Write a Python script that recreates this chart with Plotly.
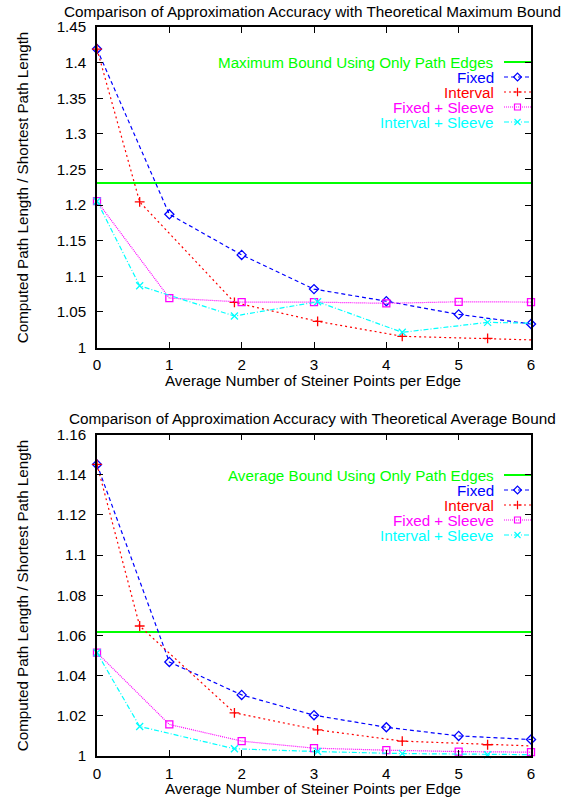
import numpy as np
import plotly.graph_objects as go

# Average number of Steiner points per edge for each placement scheme
steiner_fixed = [0, 1, 2, 3, 4, 5, 6]
steiner_interval = [0, 0.59, 1.9, 3.05, 4.22, 5.4, 6.6]

# Maximum-ratio experiment
max_bound = 1.231
max_fixed = [1.419, 1.187, 1.130, 1.082, 1.065, 1.0465, 1.033]
max_interval = [1.419, 1.2044, 1.0633, 1.0367, 1.0157, 1.0129, 1.009]
max_fixed_sleeve = [1.2054, 1.0694, 1.0638, 1.0638, 1.062, 1.0642, 1.0638]
max_interval_sleeve = [1.2054, 1.0866, 1.0442, 1.0642, 1.0213, 1.0353, 1.033]

# Average-ratio experiment
avg_bound = 1.0617
avg_fixed = [1.1451, 1.0468, 1.0304, 1.0203, 1.0143, 1.0100, 1.0082]
avg_interval = [1.1451, 1.0647, 1.0215, 1.0130, 1.0074, 1.0056, 1.0042]
avg_fixed_sleeve = [1.0514, 1.0157, 1.0074, 1.0039, 1.0029, 1.0022, 1.0019]
avg_interval_sleeve = [1.0514, 1.0147, 1.0036, 1.0022, 1.0012, 1.0006, 1.0005]

series_names = ["Fixed", "Interval", "Fixed + Sleeve", "Interval + Sleeve"]
top_titles = ["Comparison of Approximation Accuracy with Theoretical Maximum Bound",
              "Comparison of Approximation Accuracy with Theoretical Average Bound"]
bound_names = ["Maximum Bound Using Only Path Edges", "Average Bound Using Only Path Edges"]
x_title = "Average Number of Steiner Points per Edge"
y_title = "Computed Path Length / Shortest Path Length"
x_ticks = [0, 1, 2, 3, 4, 5, 6]
y_ticks_max = [1, 1.05, 1.1, 1.15, 1.2, 1.25, 1.3, 1.35, 1.4, 1.45]
y_ticks_avg = [1, 1.02, 1.04, 1.06, 1.08, 1.1, 1.12, 1.14, 1.16]

# Styling
FONT = "Liberation Sans, Arial, Helvetica, sans-serif"
FS = 15.2
FS_TITLE = 15.3
GREEN = "#00ff00"
styles = [
    dict(color="#0000ff", dash="4px,3px", symbol="diamond-open"),
    dict(color="#ff0000", dash="2px,3px", symbol="cross-thin-open"),
    dict(color="#ff00ff", dash="1px,1px", symbol="square-open"),
    dict(color="#00ffff", dash="5px,2px,1px,2px", symbol="x-thin-open"),
]

W, H = 561, 799
ML, MR, MT, MB = 97, 30, 27, 43
PW, PH = W - ML - MR, H - MT - MB


def py(pix):
    """Convert a pixel row (from top) to paper y."""
    return (H - MB - pix) / PH


def px(pix):
    return (pix - ML) / PW


panels = [
    dict(bound=max_bound, ys=[max_fixed, max_interval, max_fixed_sleeve, max_interval_sleeve],
         yr=[1, 1.45], ticks=y_ticks_max, top=27, bottom=347.5,
         legend_rows=[62, 77, 92, 107, 122]),
    dict(bound=avg_bound, ys=[avg_fixed, avg_interval, avg_fixed_sleeve, avg_interval_sleeve],
         yr=[1, 1.16], ticks=y_ticks_avg, top=434.5, bottom=756,
         legend_rows=[475, 490, 505, 520, 535]),
]

fig = go.Figure()
layout = dict(
    width=W, height=H, margin=dict(l=ML, r=MR, t=MT, b=MB, pad=0),
    paper_bgcolor="white", plot_bgcolor="white", showlegend=False,
    font=dict(family=FONT, size=FS, color="black"),
)
annotations = []

for i, p in enumerate(panels):
    n = i + 1
    xa, ya = ("x", "y") if n == 1 else ("x2", "y2")
    la_x, la_y = f"x{n + 2}", f"y{n + 2}"
    dom = [py(p["bottom"]), py(p["top"])]

    # theoretical bound
    fig.add_trace(go.Scatter(x=[x_ticks[0], x_ticks[-1]], y=[p["bound"], p["bound"]],
                             mode="lines", line=dict(color=GREEN, width=2.2),
                             xaxis=xa, yaxis=ya, hoverinfo="skip"))

    for k, (name, st) in enumerate(zip(series_names, styles)):
        xs = np.array(steiner_fixed if k % 2 == 0 else steiner_interval, dtype=float)
        ys = np.array(p["ys"][k], dtype=float)
        fig.add_trace(go.Scatter(x=xs, y=ys, mode="lines", name=name,
                                 line=dict(color=st["color"], width=1.2, dash=st["dash"]),
                                 xaxis=xa, yaxis=ya))
        inside = xs <= x_ticks[-1]
        fig.add_trace(go.Scatter(x=xs[inside], y=ys[inside], mode="markers", name=name,
                                 marker=dict(symbol=st["symbol"], size=7, color=st["color"],
                                             line=dict(color=st["color"], width=1.3)),
                                 cliponaxis=False, xaxis=xa, yaxis=ya))

    # key in gnuplot style: right-aligned label followed by a line sample
    rows = p["legend_rows"]

    def ry(pix, p=p):
        return (p["bottom"] - pix) / (p["bottom"] - p["top"])

    x0, x1, xm, xt = px(504), px(531), px(517.5), px(496)
    fig.add_trace(go.Scatter(x=[x0, x1], y=[ry(rows[0])] * 2, mode="lines",
                             line=dict(color=GREEN, width=2.2), xaxis=la_x, yaxis=la_y))
    annotations.append(dict(x=xt, y=ry(rows[0]), xref=la_x, yref=la_y, text=bound_names[i],
                            showarrow=False, xanchor="right", yanchor="middle",
                            font=dict(color=GREEN, size=FS, family=FONT)))
    for k, (name, st) in enumerate(zip(series_names, styles)):
        yy = ry(rows[k + 1])
        fig.add_trace(go.Scatter(x=[x0, x1], y=[yy, yy], mode="lines",
                                 line=dict(color=st["color"], width=1.2, dash=st["dash"]),
                                 xaxis=la_x, yaxis=la_y))
        fig.add_trace(go.Scatter(x=[xm], y=[yy], mode="markers",
                                 marker=dict(symbol=st["symbol"], size=6, color=st["color"],
                                             line=dict(color=st["color"], width=1.2)),
                                 cliponaxis=False, xaxis=la_x, yaxis=la_y))
        annotations.append(dict(x=xt, y=yy, xref=la_x, yref=la_y, text=name,
                                showarrow=False, xanchor="right", yanchor="middle",
                                font=dict(color=st["color"], size=FS, family=FONT)))

    axis_common = dict(showgrid=False, zeroline=False, showline=True, linecolor="black",
                       linewidth=1.5, mirror="allticks", ticks="inside", ticklen=6,
                       tickwidth=1, tickcolor="black",
                       tickfont=dict(size=FS, family=FONT, color="black"))
    layout[f"xaxis{'' if n == 1 else n}"] = dict(
        axis_common, domain=[0, 1], range=[x_ticks[0], x_ticks[-1]], tickvals=x_ticks,
        anchor=ya, ticklabelstandoff=3)
    layout[f"yaxis{'' if n == 1 else n}"] = dict(
        axis_common, domain=dom, range=p["yr"], tickvals=p["ticks"], anchor=xa,
        ticklabelstandoff=6)
    # transparent overlay used only for the key
    layout[f"xaxis{n + 2}"] = dict(overlaying=xa, range=[0, 1], visible=False,
                                   anchor=la_y, fixedrange=True)
    layout[f"yaxis{n + 2}"] = dict(overlaying=ya, range=[0, 1], visible=False,
                                   anchor=la_x, fixedrange=True)

    # panel title, axis titles
    title_pix = p["top"] - 15.8
    annotations.append(dict(x=px(312), y=py(title_pix), xref="paper", yref="paper",
                            text=top_titles[i], showarrow=False, xanchor="center",
                            yanchor="middle", font=dict(size=FS_TITLE, family=FONT)))
    annotations.append(dict(x=px(313), y=py(p["bottom"] + 33), xref="paper", yref="paper",
                            text=x_title, showarrow=False, xanchor="center",
                            yanchor="middle", font=dict(size=FS, family=FONT)))
    annotations.append(dict(x=px(22), y=py((p["top"] + p["bottom"]) / 2), xref="paper",
                            yref="paper", text=y_title, textangle=-90, showarrow=False,
                            xanchor="center", yanchor="middle", font=dict(size=FS, family=FONT)))

layout["annotations"] = annotations
fig.update_layout(**layout)
fig.write_html("out.html")
